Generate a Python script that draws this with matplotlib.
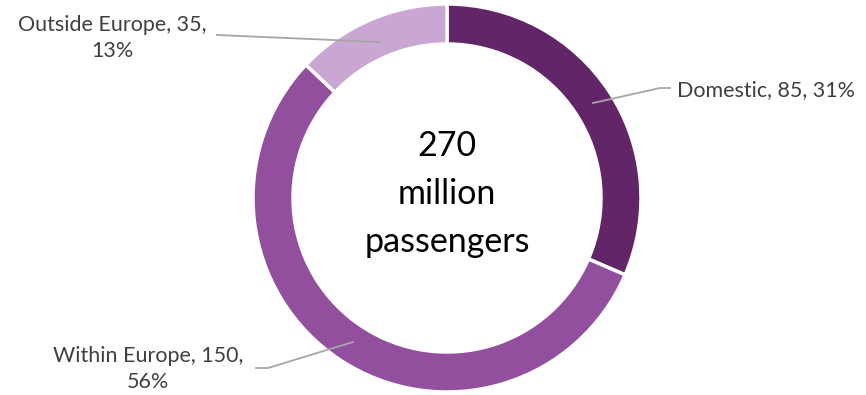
import matplotlib.pyplot as plt

plt.rcParams['font.family'] = ['Lato', 'DejaVu Sans']

labels = ["Domestic", "Within Europe", "Outside Europe"]
values = [85, 150, 35]
percents = ["31%", "56%", "13%"]
colors = ["#622567", "#914f9e", "#caa7d2"]
total_label = "270\nmillion\npassengers"

fig = plt.figure(figsize=(8.66, 3.95), dpi=100)
ax = fig.add_axes([0, 0, 1, 1])

cx, cy, r = 447, 197, 194
ax.pie(values, colors=colors, startangle=90, counterclock=False,
       center=(cx, cy), radius=r, frame=True,
       wedgeprops=dict(width=40, edgecolor='white', linewidth=2.5))
ax.set_xlim(0, 866)
ax.set_ylim(0, 395)
ax.set_aspect('equal')
ax.axis('off')

ax.text(cx, cy + 4, total_label, ha='center', va='center', fontsize=24.5,
        color='black', linespacing=1.6)

txt = '#404040'
line = '#a6a6a6'
fs = 15.5
# Domestic
ax.plot([593, 660, 670], [395 - 103, 395 - 88, 395 - 88], color=line, lw=1.3)
ax.text(677, 395 - 90, f"{labels[0]}, {values[0]}, {percents[0]}", ha='left',
        va='center', fontsize=fs, color=txt)
# Within Europe
ax.plot([256, 268, 353], [395 - 368, 395 - 368, 395 - 342], color=line, lw=1.3)
ax.text(148, 395 - 369, f"{labels[1]}, {values[1]},\n{percents[1]}", ha='center',
        va='center', fontsize=fs, color=txt, linespacing=1.38)
# Outside Europe
ax.plot([217, 380], [395 - 35, 395 - 42], color=line, lw=1.3)
ax.text(112, 395 - 38, f"{labels[2]}, {values[2]},\n{percents[2]}", ha='center',
        va='center', fontsize=fs, color=txt, linespacing=1.4)

fig.savefig("out.png", dpi=100)
